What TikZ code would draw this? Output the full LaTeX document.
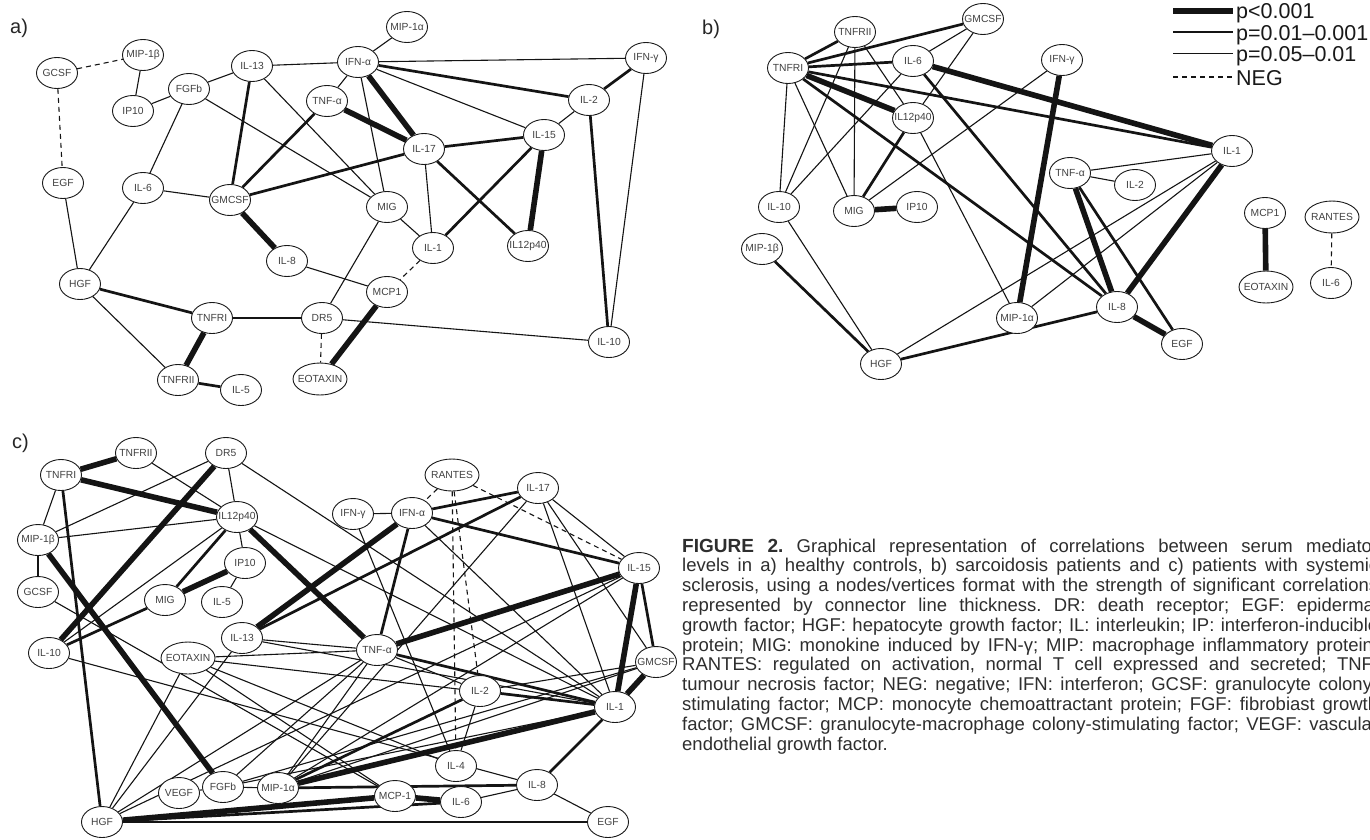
\documentclass[tikz,border=0pt]{standalone}
\usepackage{fontspec}
\setmainfont{Liberation Sans}
\usetikzlibrary{shapes.geometric}
\pgfdeclarelayer{bg}
\pgfsetlayers{bg,main}
\newcommand\lblfont{\fontsize{10.3}{12}\selectfont}
\newcommand\capfont{\fontsize{18.5}{19.8}\selectfont}
\newcommand\Nd[4][]{\node[nd,#1] (#2) at (#3) {\makebox[0pt]{#4}};}
\newlength\capw
\setlength\capw{696pt}
\begin{document}
\begin{tikzpicture}[x=1pt,y=-1pt,
  nd/.style={ellipse, draw=black!90, line width=0.9pt, fill=white, minimum width=41pt, minimum height=31pt, inner sep=0pt, font=\lblfont, text=black!75},
  wd/.style={minimum width=54pt, minimum height=32pt},
  ethin/.style={line width=1.1pt, draw=black!92},
  emed/.style={line width=2.7pt, draw=black!92},
  ethk/.style={line width=5.6pt, draw=black!92},
  eneg/.style={line width=1.1pt, draw=black!92, dash pattern=on 5pt off 4pt},
  plab/.style={font=\fontsize{20}{22}\selectfont, inner sep=0pt, anchor=base west, text=black!85},
  leg/.style={font=\fontsize{21.5}{23}\selectfont, inner sep=0pt, anchor=base west, text=black!90}]
\begin{pgfonlayer}{bg}
\useasboundingbox[fill=white] (0,0) rectangle (1370,839);
\end{pgfonlayer}

% ---------------- panel a ----------------
\node[plab] (la) at (10,33) {a)};
\Nd{aGCSF}{57,73}{GCSF}
\Nd{aMIP1b}{143,55}{MIP-1β}
\Nd{aIP10}{133,111}{IP10}
\Nd{aFGFb}{189,89}{FGFb}
\Nd{aIL13}{252,66}{IL-13}
\Nd{aIFNa}{358,62}{IFN-α}
\Nd{aMIP1a}{407,27}{MIP-1α}
\Nd{aTNFa}{327,101}{TNF-α}
\Nd{aIFNg}{646,58}{IFN-γ}
\Nd{aIL2}{589,100}{IL-2}
\Nd{aIL15}{544,135}{IL-15}
\Nd{aIL17}{424,149}{IL-17}
\Nd{aEGF}{63,183}{EGF}
\Nd{aIL6}{143,188}{IL-6}
\Nd{aGMCSF}{230,200}{GMCSF}
\Nd{aMIG}{387,207}{MIG}
\Nd{aIL1}{433,248}{IL-1}
\Nd{aIL12}{528,246}{IL12p40}
\Nd{aIL8}{287,261}{IL-8}
\Nd{aMCP1}{387,292}{MCP1}
\Nd{aHGF}{80,284}{HGF}
\Nd{aTNFRI}{212,318}{TNFRI}
\Nd{aDR5}{322,318}{DR5}
\Nd{aIL10}{609,342}{IL-10}
\Nd{aTNFRII}{178,380}{TNFRII}
\Nd{aIL5}{241,390}{IL-5}
\Nd[wd]{aEOT}{320,379}{EOTAXIN}

% ---------------- panel b ----------------
\node[plab] (lb) at (702,34) {b)};
\Nd{bTNFRII}{855,32}{TNFRII}
\Nd{bGMCSF}{983,19}{GMCSF}
\Nd{bTNFRI}{788,68}{TNFRI}
\Nd{bIL6}{913,61}{IL-6}
\Nd{bIFNg}{1062,60}{IFN-γ}
\Nd{bIL12}{913,118}{IL12p40}
\Nd{bIL1}{1232,151}{IL-1}
\Nd{bTNFa}{1070,173}{TNF-α}
\Nd{bIL2}{1135,185}{IL-2}
\Nd{bIL10}{779,207}{IL-10}
\Nd{bMIG}{854,211}{MIG}
\Nd{bIP10}{917,207}{IP10}
\Nd{bMIP1b}{762,249}{MIP-1β}
\Nd{bMCP1}{1265,213}{MCP1}
\Nd[wd]{bRANTES}{1332,217}{RANTES}
\Nd[wd]{bEOT}{1266,287}{EOTAXIN}
\Nd{bIL6r}{1331,283}{IL-6}
\Nd{bMIP1a}{1017,318}{MIP-1α}
\Nd{bIL8}{1117,307}{IL-8}
\Nd{bEGF}{1182,344}{EGF}
\Nd{bHGF}{881,364}{HGF}

% legend
\coordinate (g1a) at (1173,11); \coordinate (g1b) at (1233,11);
\coordinate (g2a) at (1173,32); \coordinate (g2b) at (1233,32);
\coordinate (g3a) at (1173,53.5); \coordinate (g3b) at (1233,53.5);
\coordinate (g4a) at (1173,77); \coordinate (g4b) at (1233,77);
\draw[ethk] (g1a) -- (g1b);
\draw[emed] (g2a) -- (g2b);
\draw[ethin] (g3a) -- (g3b);
\draw[eneg] (g4a) -- (g4b);
\node[leg] (t1) at (1236,18.5) {p<0.001};
\node[leg] (t2) at (1236,40) {p=0.01–0.001};
\node[leg] (t3) at (1236,61.5) {p=0.05–0.01};
\node[leg] (t4) at (1236,85) {NEG};

% ---------------- panel c ----------------
\node[plab] (lc) at (12,448) {c)};
\Nd{cTNFRII}{136,453}{TNFRII}
\Nd{cDR5}{226,453}{DR5}
\Nd{cTNFRI}{61,475}{TNFRI}
\Nd{cIL12}{237,517}{IL12p40}
\Nd{cMIP1b}{38,540}{MIP-1β}
\Nd{cIP10}{245,563}{IP10}
\Nd{cGCSF}{38,592}{GCSF}
\Nd{cMIG}{165,600}{MIG}
\Nd{cIL5}{222,602}{IL-5}
\Nd[wd]{cRANTES}{452,475}{RANTES}
\Nd{cIL17}{538,488}{IL-17}
\Nd{cIFNg}{353,514}{IFN-γ}
\Nd{cIFNa}{412,513}{IFN-α}
\Nd{cIL15}{639,568}{IL-15}
\Nd{cIL13}{242,638}{IL-13}
\Nd[wd]{cEOT}{188,658}{EOTAXIN}
\Nd{cIL10}{49,653}{IL-10}
\Nd{cTNFa}{377,650}{TNF-α}
\Nd{cGMCSF}{656,662}{GMCSF}
\Nd{cIL2}{480,691}{IL-2}
\Nd{cIL1}{615,707}{IL-1}
\Nd{cIL4}{456,766}{IL-4}
\Nd{cIL8}{537,785}{IL-8}
\Nd{cVEGF}{179,793}{VEGF}
\Nd{cFGFb}{223,787}{FGFb}
\Nd{cMIP1a}{278,788}{MIP-1α}
\Nd{cMCP1}{395,796}{MCP-1}
\Nd{cIL6}{461,802}{IL-6}
\Nd{cHGF}{102,822}{HGF}
\Nd{cEGF}{608,822}{EGF}

\begin{pgfonlayer}{bg}
% panel a
\foreach \u/\v in {aGCSF/aMIP1b, aGCSF/aEGF, aIL1/aMCP1, aDR5/aEOT}
  \draw[eneg] (\u) -- (\v);
\foreach \u/\v in {aMIP1b/aIP10, aIP10/aFGFb, aFGFb/aIL13, aFGFb/aIL6, aFGFb/aMIG, aIL13/aIFNa, aIL13/aMIG, aIFNa/aMIP1a, aIFNa/aTNFa, aIFNa/aMIG, aIFNa/aIFNg, aIFNa/aIL15, aIL17/aIL1, aIL15/aIL2, aIFNg/aIL10, aIL6/aGMCSF, aIL6/aHGF, aEGF/aHGF, aMIG/aIL1, aMIG/aDR5, aIL8/aMCP1, aHGF/aTNFRII, aDR5/aIL10}
  \draw[ethin] (\u) -- (\v);
\foreach \u/\v in {aIL13/aGMCSF, aIFNa/aIL2, aTNFa/aGMCSF, aIL17/aGMCSF, aIL17/aIL15, aIL17/aIL12, aIL1/aIL15, aIL2/aIFNg, aIL2/aIL10, aHGF/aTNFRI, aTNFRI/aDR5, aTNFRII/aIL5}
  \draw[emed] (\u) -- (\v);
\foreach \u/\v in {aIFNa/aIL17, aTNFa/aIL17, aIL15/aIL12, aGMCSF/aIL8, aTNFRI/aTNFRII, aMCP1/aEOT}
  \draw[ethk] (\u) -- (\v);
% panel b
\draw[eneg] (bRANTES) -- (bIL6r);
\foreach \u/\v in {bTNFRI/bIL10, bTNFRI/bMIG, bTNFRII/bMIG, bTNFRII/bIL10, bTNFRII/bIL12, bGMCSF/bIL6, bGMCSF/bIL12, bIL6/bIL10, bIL12/bMIP1a, bMIG/bIFNg, bTNFa/bIL1, bTNFa/bIL2, bMIP1a/bIL1, bHGF/bIL1, bIL10/bHGF}
  \draw[ethin] (\u) -- (\v);
\foreach \u/\v in {bTNFRI/bTNFRII, bTNFRI/bGMCSF, bTNFRI/bIL6, bTNFRI/bIL1, bTNFRI/bIL8, bIL6/bIL8, bIL12/bMIG, bTNFa/bEGF, bHGF/bIL8, bMIP1b/bHGF}
  \draw[emed] (\u) -- (\v);
\foreach \u/\v in {bTNFRI/bIL12, bIL6/bIL1, bMIG/bIP10, bIFNg/bMIP1a, bTNFa/bIL8, bIL1/bIL8, bIL8/bEGF, bMCP1/bEOT}
  \draw[ethk] (\u) -- (\v);
% panel c
\foreach \u/\v in {cRANTES/cIFNa, cRANTES/cIL15, cRANTES/cIL4, cRANTES/cIL2}
  \draw[eneg] (\u) -- (\v);
\foreach \u/\v in {cTNFRI/cMIP1b, cTNFRII/cIL12, cDR5/cIL12, cDR5/cMIP1b, cDR5/cIL1, cIL12/cMIP1b, cIL12/cIP10, cIL12/cIL1, cIL12/cIL10, cIP10/cIL5, cMIP1b/cGCSF, cGCSF/cMCP1, cIFNg/cIFNa, cIFNg/cIL4, cIFNa/cIL1, cIL17/cMIP1a, cIL17/cIL15, cIL17/cIL1, cIL17/cGMCSF, cEOT/cTNFa, cIL13/cTNFa, cEOT/cHGF, cIL13/cHGF, cTNFa/cHGF, cTNFa/cIL2, cTNFa/cMIP1a, cTNFa/cFGFb, cIL2/cGMCSF, cIL2/cIL4, cIL15/cMIP1a, cIL15/cHGF, cFGFb/cIL1, cFGFb/cGMCSF, cMIP1a/cGMCSF, cFGFb/cVEGF, cFGFb/cMIP1a, cHGF/cEGF, cIL6/cIL8, cIL8/cEGF, cIL10/cIL8, cEOT/cIL4, cEOT/cIL1, cEOT/cMCP1, cIL13/cIL1}
  \draw[ethin] (\u) -- (\v);
\foreach \u/\v in {cTNFRI/cHGF, cIL12/cMIG, cIL10/cMIG, cIL17/cIFNa, cIFNa/cIL15, cIL17/cIL13, cIFNa/cTNFa, cTNFa/cIL1, cIL2/cIL1, cIL2/cMIP1a, cIL1/cIL8, cIL15/cGMCSF, cMIP1a/cIL8, cHGF/cIL6}
  \draw[emed] (\u) -- (\v);
\foreach \u/\v in {cTNFRI/cTNFRII, cTNFRI/cIL12, cDR5/cIL10, cIL12/cTNFa, cMIP1b/cFGFb, cMIG/cIP10, cIFNa/cIL13, cIL15/cTNFa, cIL1/cMIP1a, cIL15/cIL1, cGMCSF/cIL1, cHGF/cMCP1, cMCP1/cIL6}
  \draw[ethk] (\u) -- (\v);
\end{pgfonlayer}

% ---------------- caption ----------------
\begin{scope}
\clip (0,0) rectangle (1370,839);
\node[anchor=base west, inner sep=0pt, text=black!82] (cap) at (682,552) {\parbox[t]{\capw}{\capfont\frenchspacing\setlength\parindent{0pt}%
\makebox[\capw][s]{{\fontsize{19}{19.8}\selectfont\bfseries FIGURE 2.} Graphical representation of correlations between serum mediator}\\
\makebox[\capw][s]{levels in a) healthy controls, b) sarcoidosis patients and c) patients with systemic}\\
\makebox[\capw][s]{sclerosis, using a nodes/vertices format with the strength of significant correlations}\\
\makebox[\capw][s]{represented by connector line thickness. DR: death receptor; EGF: epidermal}\\
\makebox[\capw][s]{growth factor; HGF: hepatocyte growth factor; IL: interleukin; IP: interferon-inducible}\\
\makebox[\capw][s]{protein; MIG: monokine induced by IFN-γ; MIP: macrophage inflammatory protein;}\\
\makebox[\capw][s]{RANTES: regulated on activation, normal T cell expressed and secreted; TNF:}\\
\makebox[\capw][s]{tumour necrosis factor; NEG: negative; IFN: interferon; GCSF: granulocyte colony-}\\
\makebox[\capw][s]{stimulating factor; MCP: monocyte chemoattractant protein; FGF: fibrobiast growth}\\
\makebox[\capw][s]{factor; GMCSF: granulocyte-macrophage colony-stimulating factor; VEGF: vascular}\\
endothelial growth factor.}};
\end{scope}
\end{tikzpicture}
\end{document}
